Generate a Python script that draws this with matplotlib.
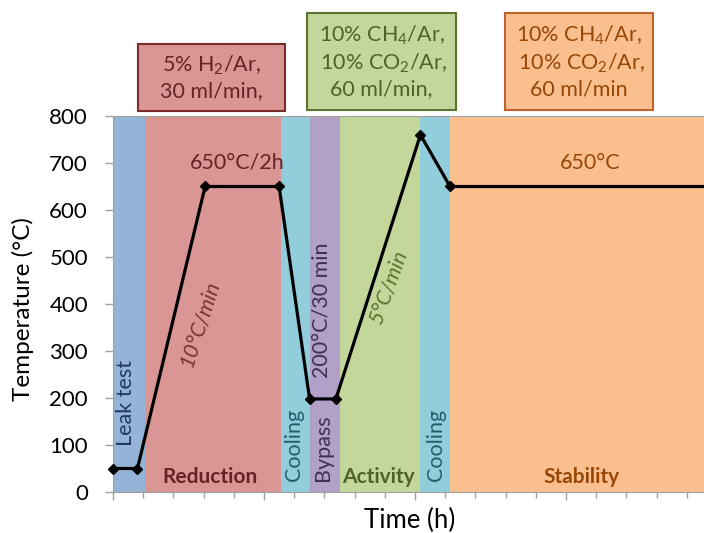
import matplotlib
matplotlib.use("Agg")
import matplotlib.pyplot as plt
from matplotlib.patches import Rectangle
from matplotlib.ticker import MultipleLocator, NullFormatter

plt.rcParams['font.family'] = ['Lato', 'DejaVu Sans']
plt.rcParams['mathtext.fontset'] = 'custom'
plt.rcParams['mathtext.rm'] = 'Lato'
plt.rcParams['mathtext.it'] = 'Lato:italic'
plt.rcParams['mathtext.bf'] = 'Lato:bold'

# ---- data ----
time_h = [0, 0.81, 3.05, 5.5, 6.51, 7.38, 10.18, 11.16, 20]
temp_c = [50, 50, 650, 650, 198, 198, 760, 650, 650]

phase_names = ["Leak test", "Reduction", "Cooling", "Bypass", "Activity", "Cooling", "Stability"]
phase_start = [0, 1.06, 5.55, 6.51, 7.51, 10.17, 11.16]
phase_end = [1.06, 5.55, 6.51, 7.51, 10.17, 11.16, 20]
phase_colors = ["#95B3D7", "#DA9694", "#92CDDC", "#B1A0C7", "#C4D79B", "#92CDDC", "#FABF8F"]
phase_text_colors = ["#1F3864", "#632523", "#215E6E", "#403151", "#4F6228", "#215E6E", "#974706"]

y_ticks = [0, 100, 200, 300, 400, 500, 600, 700, 800]
x_major_step = 5
x_minor_step = 1

fig = plt.figure(figsize=(7.04, 5.33), dpi=100)
L, B = 113 / 704, (533 - 492) / 533
W, H = 604 / 704, (492 - 116) / 533
ax = fig.add_axes([L, B, W, H])

for s, e, c in zip(phase_start, phase_end, phase_colors):
    ax.axvspan(s, e, color=c, lw=0, zorder=0)

ax.plot(time_h, temp_c, color='black', lw=2.3, marker='D', ms=5, zorder=5, clip_on=False)

ax.set_xlim(0, 20)
ax.set_ylim(0, 800)
ax.set_yticks(y_ticks)
ax.xaxis.set_major_locator(MultipleLocator(x_major_step))
ax.xaxis.set_minor_locator(MultipleLocator(x_minor_step))
ax.xaxis.set_major_formatter(NullFormatter())
ax.tick_params(axis='y', labelsize=16, length=6, color='#A0A0A0', width=1, pad=12)
ax.tick_params(axis='x', which='major', length=6, color='#A0A0A0', width=1)
ax.tick_params(axis='x', which='minor', length=4, color='#A0A0A0', width=1)
for sp in ['left', 'bottom', 'top']:
    ax.spines[sp].set_color('#A0A0A0')
ax.spines['right'].set_visible(False)
fig.text(23 / 704, 1 - 309 / 533, "Temperature (°C)", fontsize=17.5, rotation=90,
         ha='center', va='center')
fig.text(410 / 704, 1 - 520 / 533, "Time (h)", fontsize=18.5, ha='center', va='center')

# phase labels at bottom
vertical = [True, False, True, True, False, True, False]
label_x = [0.42, 3.2, 5.98, 6.97, 8.8, 10.7, 15.5]
label_y = [98, 32, 24, 24, 32, 24, 32]
for name, x, y, vert, tc in zip(phase_names, label_x, label_y, vertical, phase_text_colors):
    if vert:
        ax.text(x, y, name, rotation=90, ha='center', va='bottom', fontsize=15.5, color=tc, zorder=6)
    else:
        ax.text(x, y, name, ha='center', va='center', fontsize=15, color=tc,
                fontweight='bold', zorder=6)

# annotations along the profile
ax.text(4.1, 700, "650°C/2h", ha='center', va='center', fontsize=15.5, color='#632523', zorder=6)
ax.text(15.8, 700, "650°C", ha='center', va='center', fontsize=15.5, color='#974706', zorder=6)
ax.text(2.85, 360, "10°C/min", ha='center', va='center', fontsize=15.5, color='#7A3533',
        rotation=72, style='italic', zorder=6)
ax.text(6.92, 387, "200°C/30 min", ha='center', va='center', fontsize=15.5, color='#403151',
        rotation=90, zorder=6)
ax.text(9.1, 435, "5°C/min", ha='center', va='center', fontsize=15.5, color='#5C7330',
        rotation=70, style='italic', zorder=6)

# gas condition boxes
boxes = [
    ((138, 44, 285, 111), "#DA9694", "#7B2C2A", "#632523", "5% H$_2$/Ar,\n30 ml/min,"),
    ((307, 13, 456, 110), "#C4D79B", "#5C7330", "#4F6228", "10% CH$_4$/Ar,\n 10% CO$_2$/Ar,\n60 ml/min,"),
    ((505, 13, 653, 110), "#FABF8F", "#C0622A", "#974706", "10% CH$_4$/Ar,\n 10% CO$_2$/Ar,\n60 ml/min"),
]
for (x0, y0, x1, y1), fc, ec, tc, txt in boxes:
    fx0, fx1 = x0 / 704, x1 / 704
    fy0, fy1 = 1 - y1 / 533, 1 - y0 / 533
    fig.patches.append(Rectangle((fx0, fy0), fx1 - fx0, fy1 - fy0, transform=fig.transFigure,
                                 facecolor=fc, edgecolor=ec, lw=1.5))
    fig.text((fx0 + fx1) / 2, (fy0 + fy1) / 2, txt, ha='center', va='center', fontsize=15.5,
             color=tc, linespacing=1.25)

fig.savefig("out.png", dpi=100)
